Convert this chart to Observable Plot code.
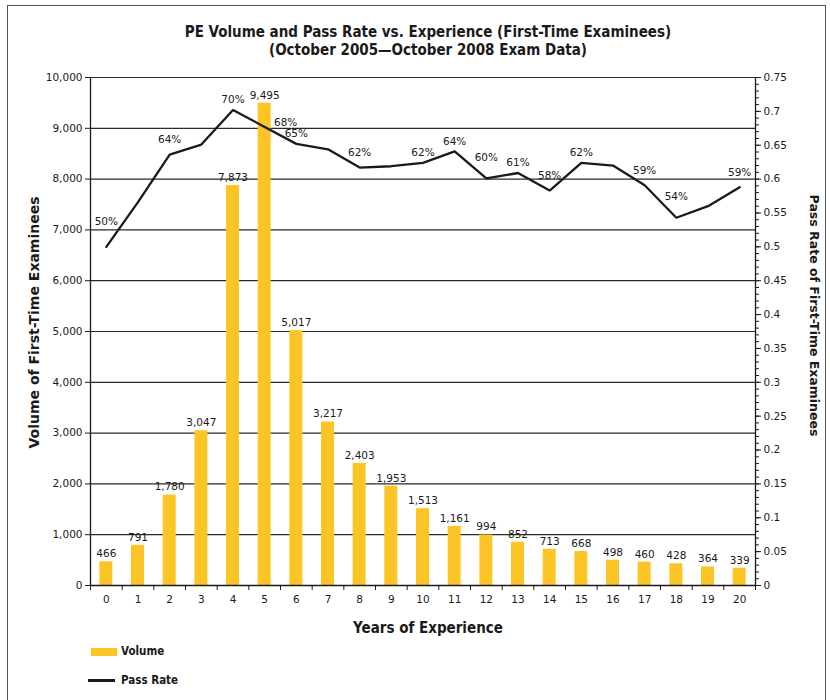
<!DOCTYPE html>
<html>
<head>
<meta charset="utf-8">
<script src="https://cdn.jsdelivr.net/npm/d3@7"></script>
<script src="https://cdn.jsdelivr.net/npm/@observablehq/plot@0.6"></script>
<style>
  html, body { margin: 0; padding: 0; background: #fff; }
  #wrap { position: relative; width: 830px; height: 700px; overflow: hidden; font-family: "DejaVu Sans", sans-serif; }
  #frame { position: absolute; left: 7px; top: 5px; width: 819px; height: 720px; border: 1px solid #555; box-sizing: border-box; }
  .title { position: absolute; left: 0; width: 856px; text-align: center; font-family: "DejaVu Sans Condensed", "DejaVu Sans", sans-serif; font-weight: bold; font-size: 15px; color: #1a1a1a; line-height: 18px; }
  #chart { position: absolute; left: 0; top: 0; }
  .leg { position: absolute; font-family: "DejaVu Sans Condensed", "DejaVu Sans", sans-serif; font-weight: bold; font-size: 11.5px; color: #1a1a1a; line-height: 14px; }
</style>
</head>
<body>
<div id="wrap">
  <div id="frame"></div>
  <div id="chart"></div>
  <div class="title" style="top:23px">PE Volume and Pass Rate vs. Experience (First-Time Examinees)</div>
  <div class="title" style="top:41px">(October 2005—October 2008 Exam Data)</div>
  <div class="leg" style="left:91px;top:648px;width:26px;height:8px;background:#fdc425"></div>
  <div class="leg" style="left:121px;top:644px">Volume</div>
  <div class="leg" style="left:88px;top:679px;width:27px;height:2.5px;background:#1a1a1a"></div>
  <div class="leg" style="left:121px;top:673px">Pass Rate</div>
</div>
<script>
const years = d3.range(0, 21);
const volume = [466, 791, 1780, 3047, 7873, 9495, 5017, 3217, 2403, 1953, 1513, 1161, 994, 852, 713, 668, 498, 460, 428, 364, 339];
const passRate = [0.500, 0.566, 0.636, 0.651, 0.702, 0.677, 0.652, 0.644, 0.617, 0.619, 0.624, 0.641, 0.601, 0.609, 0.583, 0.624, 0.620, 0.591, 0.543, 0.560, 0.588];
const rateLabels = ["50%", "", "64%", "", "70%", "68%", "65%", "", "62%", "", "62%", "64%", "60%", "61%", "58%", "62%", "", "59%", "54%", "", "59%"];
const volumeTicks = d3.range(0, 10001, 1000);
const rateTicks = d3.range(0, 16).map(i => i * 0.05);
const rateMinorTicks = d3.range(0, 76).map(i => i / 100);

const volMax = 10000, rateMax = 0.75;
const k = volMax / rateMax; // secondary axis mapping
const data = years.map((y, i) => ({year: y, volume: volume[i], rate: passRate[i], rateY: passRate[i] * k, label: rateLabels[i]}));
const labelled = data.filter(d => d.label);
const pick = idx => labelled.filter(d => idx.includes(d.year));

const ink = "#1a1a1a";
const tickFont = {fontSize: 10.5, fill: ink};
const condBold = "DejaVu Sans Condensed, DejaVu Sans, sans-serif";

const chart = Plot.plot({
  width: 830,
  height: 640,
  marginLeft: 90,
  marginRight: 75,
  marginTop: 77,
  marginBottom: 55,
  style: {fontFamily: "DejaVu Sans, sans-serif", fontSize: "10.5px", color: ink, background: "transparent", overflow: "visible"},
  x: {type: "linear", domain: [-0.5, 20.5], axis: null},
  y: {domain: [0, volMax], axis: null},
  marks: [
    Plot.ruleY(volumeTicks.filter(v => v > 0), {stroke: "#2a2a2a", strokeWidth: 1.2}),
    Plot.rectY(data, {x1: d => d.year - 0.205, x2: d => d.year + 0.205, y1: 0, y2: "volume", fill: "#fdc425"}),
    Plot.text(data, {x: "year", y: "volume", text: d => d3.format(",")(d.volume), dy: -8, fontSize: 10.5, fill: ink}),
    Plot.line(data, {x: "year", y: "rateY", stroke: ink, strokeWidth: 2.3, strokeLinejoin: "miter"}),
    Plot.text(pick([4, 6, 10, 11, 13, 15]), {x: "year", y: "rateY", text: "label", dy: -10, fontSize: 10.5, fill: ink}),
    Plot.text(pick([2, 8, 14, 17, 20]), {x: "year", y: "rateY", text: "label", dy: -15, fontSize: 10.5, fill: ink}),
    Plot.text(pick([12, 18]), {x: "year", y: "rateY", text: "label", dy: -21, fontSize: 10.5, fill: ink}),
    Plot.text(pick([0]), {x: "year", y: "rateY", text: "label", dy: -25, fontSize: 10.5, fill: ink}),
    Plot.text(pick([5]), {x: "year", y: "rateY", text: "label", dx: 21, dy: -4, fontSize: 10.5, fill: ink}),
    Plot.ruleX([-0.5, 20.5], {stroke: ink, strokeWidth: 1.3}),
    Plot.ruleY([0], {stroke: ink, strokeWidth: 1.5}),
    Plot.axisY({anchor: "left", ticks: volumeTicks, tickFormat: d3.format(","), tickSize: 5, tickPadding: 3, label: null, stroke: ink, ...tickFont}),
    Plot.axisY({anchor: "right", ticks: rateMinorTicks.map(r => r * k), tickFormat: () => "", tickSize: 3, label: null, stroke: ink}),
    Plot.axisY({anchor: "right", ticks: rateTicks.map(r => r * k), tickFormat: v => String(Math.round(v / k * 100) / 100), tickSize: 5, tickPadding: 3, label: null, stroke: ink, ...tickFont}),
    Plot.axisX({anchor: "bottom", ticks: d3.range(0, 22).map(i => i - 0.5), tickFormat: () => "", tickSize: 5, label: null, stroke: ink}),
    Plot.axisX({anchor: "bottom", ticks: years, tickFormat: d => String(d), tickSize: 0, tickPadding: 10, label: null, ...tickFont}),
    Plot.text(["Volume of First-Time Examinees"], {frameAnchor: "left", textAnchor: "middle", dx: -56, dy: -9, rotate: -90, fontSize: 14, fontWeight: "bold", fontFamily: "DejaVu Sans, sans-serif", fill: ink}),
    Plot.text(["Pass Rate of First-Time Examinees"], {frameAnchor: "right", textAnchor: "middle", dx: 58, dy: -16, rotate: 90, fontSize: 12.5, fontWeight: "bold", fontFamily: "DejaVu Sans, sans-serif", fill: ink}),
    Plot.text(["Years of Experience"], {frameAnchor: "bottom", dy: 47, dx: 5, fontSize: 15, fontWeight: "bold", fontFamily: condBold, fill: ink})
  ]
});
document.getElementById("chart").appendChild(chart);
</script>
</body>
</html>
